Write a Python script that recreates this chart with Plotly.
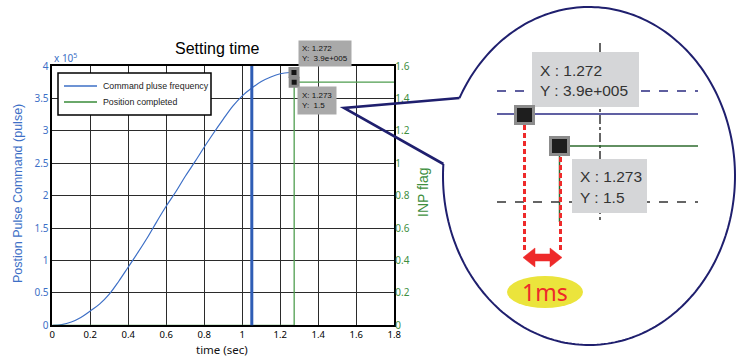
import numpy as np
import plotly.graph_objects as go

# ---------------- data ----------------
time_s = [0, 0.05, 0.1, 0.15, 0.2, 0.25, 0.3, 0.35, 0.4, 0.45, 0.5, 0.55, 0.6, 0.65,
          0.7, 0.75, 0.8, 0.85, 0.9, 0.95, 1.0, 1.05, 1.1, 1.15, 1.2, 1.25, 1.272]
cmd_pulse_e5 = [0, 0.01, 0.05, 0.12, 0.22, 0.33, 0.48, 0.68, 0.9, 1.12, 1.35, 1.6, 1.84, 2.06,
                2.3, 2.52, 2.75, 2.97, 3.18, 3.38, 3.54, 3.66, 3.76, 3.83, 3.88, 3.9, 3.9]
inp_time = [0, 1.273, 1.273, 1.8]
inp_flag = [0, 0, 1.5, 1.5]
cmd_end_time = 1.05
tip_cmd = (1.272, 3.9e5)
tip_inp = (1.273, 1.5)
x_ticks = [0, 0.2, 0.4, 0.6, 0.8, 1, 1.2, 1.4, 1.6, 1.8]
y_ticks_e5 = [0, 0.5, 1, 1.5, 2, 2.5, 3, 3.5, 4]
y_ticklabels = ["0", "0.5", "1", "1.5", "2", "2.5", "3", "3.5", "4"]
y2_ticks = [0, 0.2, 0.4, 0.6, 0.8, 1, 1.2, 1.4, 1.6]
y2_ticklabels = ["0", "0.2", "0.4", "0.6", "0.8", "1", "1.2", "1.4", "1.6"]

cmd_pulse = [v * 1e5 for v in cmd_pulse_e5]
y_ticks = [v * 1e5 for v in y_ticks_e5]

W, H = 737, 356
def px(x):
    return x / W
def py(y):
    return 1 - y / H

BLUE = "#3d6fc6"
GREEN = "#3f8f3f"
NAVY = "#1f1f6e"
RED = "#ee2a2a"
TXT = "Liberation Sans"

fig = go.Figure()
fig.add_trace(go.Scatter(x=time_s, y=cmd_pulse, mode="lines", name="Command pluse frequency",
                         line=dict(color=BLUE, width=1.2, shape="spline"), showlegend=False))
fig.add_trace(go.Scatter(x=inp_time, y=inp_flag, mode="lines", name="Position completed",
                         yaxis="y2", line=dict(color="#4f9d4f", width=1.3), showlegend=False))
fig.add_trace(go.Scatter(x=[tip_cmd[0]], y=[tip_cmd[1]], mode="markers", showlegend=False,
                         marker=dict(symbol="square", size=8, color="#151515",
                                     line=dict(color="#8a8a8a", width=3))))
fig.add_trace(go.Scatter(x=[tip_inp[0]], y=[tip_inp[1]], mode="markers", showlegend=False, yaxis="y2",
                         marker=dict(symbol="square", size=8, color="#151515",
                                     line=dict(color="#8a8a8a", width=3))))

x0p, x1p = 52.3, 394.3
ytop, ybot = 66, 325.3
fig.update_layout(
    width=W, height=H, margin=dict(l=0, r=0, t=0, b=0),
    paper_bgcolor="white", plot_bgcolor="white", showlegend=False,
    xaxis=dict(domain=[px(x0p), px(x1p)], range=[0, 1.8], tickvals=x_ticks,
               ticktext=[("%g" % v) for v in x_ticks], showgrid=True, gridcolor="#2b2b2b",
               gridwidth=1.3, showline=True, mirror=True, linecolor="black", linewidth=1.5,
               zeroline=False, ticks="", tickfont=dict(family="Noto Sans", size=9.5, color="black"),
               automargin=False),
    yaxis=dict(domain=[py(ybot), py(ytop)], range=[0, 4e5], tickvals=y_ticks, ticktext=y_ticklabels,
               showgrid=True, gridcolor="#2b2b2b", gridwidth=1.3, showline=True, mirror=True,
               linecolor="black", linewidth=1.5, zeroline=False, ticks="",
               tickfont=dict(family="Noto Sans", size=10, color=BLUE), automargin=False),
    yaxis2=dict(overlaying="y", side="right", range=[0, 1.6], tickvals=y2_ticks, ticktext=y2_ticklabels,
                showgrid=False, zeroline=False, showline=False, ticks="",
                tickfont=dict(family="Noto Sans", size=10, color=GREEN), automargin=False),
)

shapes = []
annots = []

# command end vertical line
shapes.append(dict(type="line", xref="x", yref="y domain", x0=cmd_end_time, x1=cmd_end_time,
                   y0=0, y1=1, line=dict(color="#2f5db5", width=3)))

# legend box
shapes.append(dict(type="rect", xref="paper", yref="paper", x0=px(58), x1=px(211), y0=py(115), y1=py(73),
                   fillcolor="white", line=dict(color="black", width=1.5)))
shapes.append(dict(type="line", xref="paper", yref="paper", x0=px(64), x1=px(97), y0=py(86), y1=py(86),
                   line=dict(color=BLUE, width=1.5)))
shapes.append(dict(type="line", xref="paper", yref="paper", x0=px(64), x1=px(97), y0=py(102), y1=py(102),
                   line=dict(color="#6aa86a", width=2)))
annots.append(dict(xref="paper", yref="paper", x=px(101), y=py(86), xanchor="left", yanchor="middle",
                   text="Command pluse frequency", showarrow=False,
                   font=dict(family=TXT, size=8.8, color="#222")))
annots.append(dict(xref="paper", yref="paper", x=px(101), y=py(102), xanchor="left", yanchor="middle",
                   text="Position completed", showarrow=False,
                   font=dict(family=TXT, size=8.8, color="#222")))

# datatips on main chart
annots.append(dict(xref="x", yref="y", x=tip_cmd[0], y=tip_cmd[1], xanchor="left", yanchor="bottom",
                   xshift=4, yshift=5, showarrow=False, align="left",
                   text="X: %g<br>Y:  3.9e+005" % tip_cmd[0], bgcolor="#a9a9a9", borderpad=3,
                   font=dict(family=TXT, size=8, color="#111")))
annots.append(dict(xref="x", yref="y2", x=tip_inp[0], y=tip_inp[1], xanchor="left", yanchor="top",
                   xshift=3, yshift=-4, showarrow=False, align="left",
                   text="X: %g<br>Y:  %g" % tip_inp, bgcolor="#a9a9a9", borderpad=4,
                   font=dict(family=TXT, size=8, color="#111")))

# titles and axis labels
annots.append(dict(xref="paper", yref="paper", x=px(217), y=py(48), text="Setting time", showarrow=False,
                   xanchor="center", yanchor="middle", font=dict(family=TXT, size=16, color="black")))
annots.append(dict(xref="paper", yref="paper", x=px(52), y=py(58), text="x 10<sup>5</sup>", showarrow=False,
                   xanchor="left", yanchor="middle", font=dict(family="Noto Sans", size=10, color=BLUE)))
annots.append(dict(xref="paper", yref="paper", x=px(222), y=py(349), text="time (sec)", showarrow=False,
                   xanchor="center", yanchor="middle", font=dict(family="Noto Sans", size=11.5, color="#111")))
annots.append(dict(xref="paper", yref="paper", x=px(18), y=py(194), text="Postion Pulse Command (pulse)",
                   showarrow=False, textangle=-90, xanchor="center", yanchor="middle",
                   font=dict(family=TXT, size=12.5, color=BLUE)))
annots.append(dict(xref="paper", yref="paper", x=px(423), y=py(192), text="INP flag",
                   showarrow=False, textangle=-90, xanchor="center", yanchor="middle",
                   font=dict(family=TXT, size=14, color=GREEN)))

# ---------------- zoom bubble ----------------
cx, cy, rx, ry = 589, 176, 146, 169
def ell_angle(yv, left=True):
    dy = (yv - cy) / ry
    dx = -np.sqrt(1 - dy * dy) if left else np.sqrt(1 - dy * dy)
    return np.arctan2(dy, dx)
ta = ell_angle(98) % (2 * np.pi)
tb = ell_angle(164) % (2 * np.pi) + 2 * np.pi
th = np.linspace(ta, tb, 240)
pts = [(cx + rx * np.cos(t), cy + ry * np.sin(t)) for t in th]
path = "M " + " L ".join("%.5f,%.5f" % (px(a), py(b)) for a, b in pts)
shapes.append(dict(type="path", xref="paper", yref="paper", path=path, line=dict(color=NAVY, width=2)))
tip = (344, 108)
tail = "M %.5f,%.5f L %.5f,%.5f L %.5f,%.5f" % (px(pts[0][0]), py(pts[0][1]), px(tip[0]), py(tip[1]),
                                              px(pts[-1][0]), py(pts[-1][1]))
shapes.append(dict(type="path", xref="paper", yref="paper", path=tail, line=dict(color=NAVY, width=2.6)))

def hline(y, xa, xb, color, width, dash="solid"):
    shapes.append(dict(type="line", xref="paper", yref="paper", x0=px(xa), x1=px(xb), y0=py(y), y1=py(y),
                       line=dict(color=color, width=width, dash=dash)))
def vline(x, ya, yb, color, width, dash="solid"):
    shapes.append(dict(type="line", xref="paper", yref="paper", x0=px(x), x1=px(x), y0=py(ya), y1=py(yb),
                       line=dict(color=color, width=width, dash=dash)))
def rect(xa, ya, xb, yb, fill, lc=None, lw=0):
    shapes.append(dict(type="rect", xref="paper", yref="paper", x0=px(xa), x1=px(xb), y0=py(yb), y1=py(ya),
                       fillcolor=fill, line=dict(color=lc or fill, width=lw)))

vline(600, 43, 223, "#555555", 1.8, "dashdot")
hline(91, 497, 698, "#2a2a80", 1.5, "dash")
hline(114, 497, 698, "#2b2b85", 1.5)
hline(146, 560, 698, "#2e6b2e", 1.5)
vline(559.5, 146, 222, "#2e6b2e", 1.5)
hline(202, 497, 698, "#333333", 1.5, "dash")
rect(532, 52, 639, 107, "#d5d6d8")
rect(572, 159, 647, 213, "#d5d6d8")
vline(524.5, 125, 252, RED, 3, "5px,3px")
vline(560.5, 157, 252, RED, 3, "5px,3px")
rect(514, 105, 535, 125, "#8c8c8c")
rect(517, 108, 532, 122, "#1e1e1e")
rect(549, 136, 570, 156, "#8c8c8c")
rect(552, 139, 567, 153, "#1e1e1e")
arrow = [(523, 257.5), (535, 248), (535, 254), (550, 254), (550, 248), (562, 257.5),
         (550, 267), (550, 261), (535, 261), (535, 267)]
shapes.append(dict(type="path", xref="paper", yref="paper",
                   path="M " + " L ".join("%.5f,%.5f" % (px(a), py(b)) for a, b in arrow) + " Z",
                   fillcolor=RED, line=dict(color=RED, width=0.5)))
shapes.append(dict(type="circle", xref="paper", yref="paper", x0=px(507), x1=px(583), y0=py(308), y1=py(276),
                   fillcolor="#ebe43c", line=dict(color="#ebe43c", width=0)))

annots.append(dict(xref="paper", yref="paper", x=px(538), y=py(70), text="X : %g" % tip_cmd[0],
                   showarrow=False, xanchor="left", yanchor="middle",
                   font=dict(family=TXT, size=15.5, color="#333")))
annots.append(dict(xref="paper", yref="paper", x=px(538), y=py(90), text="Y : 3.9e+005",
                   showarrow=False, xanchor="left", yanchor="middle",
                   font=dict(family=TXT, size=15.5, color="#333")))
annots.append(dict(xref="paper", yref="paper", x=px(578), y=py(177), text="X : %g" % tip_inp[0],
                   showarrow=False, xanchor="left", yanchor="middle",
                   font=dict(family=TXT, size=15.5, color="#333")))
annots.append(dict(xref="paper", yref="paper", x=px(578), y=py(197), text="Y : %g" % tip_inp[1],
                   showarrow=False, xanchor="left", yanchor="middle",
                   font=dict(family=TXT, size=15.5, color="#333")))
annots.append(dict(xref="paper", yref="paper", x=px(545), y=py(292), text="1ms",
                   showarrow=False, xanchor="center", yanchor="middle",
                   font=dict(family="Noto Sans", size=23, color=RED)))

fig.update_layout(shapes=shapes, annotations=annots)
fig.write_html("out.html", config={"displayModeBar": False},
               post_script="document.body.style.margin='0px';document.body.style.overflow='hidden';")
